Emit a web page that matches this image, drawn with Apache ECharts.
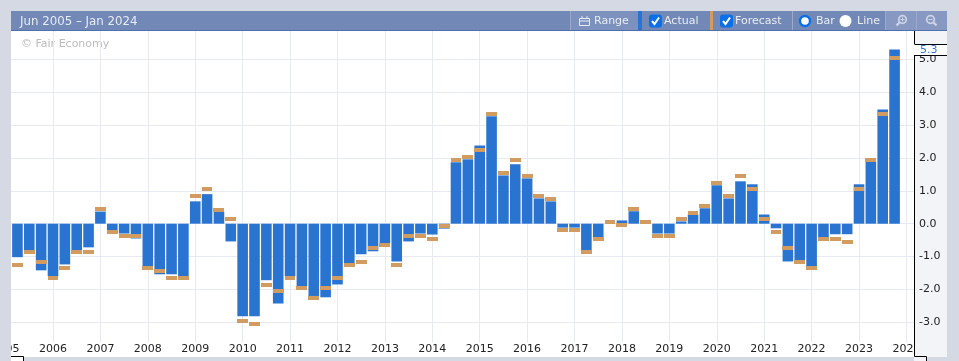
<!DOCTYPE html>
<html><head><meta charset="utf-8">
<style>html,body{margin:0;padding:0;background:#d5d9e3;overflow:hidden}#c{width:959px;height:361px}</style>
<script src="https://cdn.jsdelivr.net/npm/echarts@6/dist/echarts.min.js"></script>
</head><body><div id="c"></div>
<script>
const quarters = [];
for (let y = 2005; y <= 2024; y++) for (let q = 1; q <= 4; q++) { if (y < 2024 || q <= 2) quarters.push(y + ' Q' + q); }
const actual = [null,
 -1.02,-0.8,-1.42,-1.6,-1.24,-0.81,-0.72,0.37,-0.2,-0.3,-0.45,-1.3,-1.54,-1.54,-1.6,
 0.68,0.9,0.37,-0.54,-2.82,-2.82,-1.72,-2.43,-1.6,-1.9,-2.2,-2.24,-1.85,-1.21,-0.93,
 -0.84,-0.6,-1.15,-0.54,-0.3,-0.33,-0.15,1.87,1.96,2.38,3.27,1.47,1.81,1.38,0.77,0.68,
 -0.12,-0.12,-0.84,-0.42,0,0.1,0.38,0,-0.3,-0.3,0.07,0.28,0.47,1.17,0.77,1.29,1.2,0.28,
 -0.14,-1.15,-1.15,-1.3,-0.42,-0.32,-0.32,1.2,1.9,3.48,5.3,null,null];
const forecast = [null,
 -1.27,-0.87,-1.18,-1.66,-1.36,-0.87,-0.87,0.44,-0.26,-0.36,-0.36,-1.36,-1.45,-1.66,-1.66,
 0.83,1.05,0.42,0.15,-2.97,-3.06,-1.88,-2.06,-1.66,-1.97,-2.27,-1.97,-1.66,-1.27,-1.18,
 -0.75,-0.66,-1.27,-0.36,-0.36,-0.48,-0.06,1.93,2.02,2.23,3.33,1.53,1.93,1.44,0.83,0.74,
 -0.18,-0.18,-0.87,-0.48,0.04,-0.05,0.44,0.04,-0.36,-0.36,0.13,0.34,0.53,1.23,0.83,1.44,1.05,0.13,
 -0.26,-0.75,-1.18,-1.36,-0.48,-0.48,-0.57,1.05,1.95,3.35,5.03,null,null];
const yTicks = [-3,-2,-1,0,1,2,3,4,5,6];
const title = 'Jun 2005 – Jan 2024';
const credit = '© Fair Economy';
const latestLabel = '5.3';

const FONT = '"DejaVu Sans"';
const CHROME = '#d5d9e3', BAR = '#2874d0', ORANGE = '#d29b5f', TB = '#7288b6', TBL = '#8799c2', TXT = '#e8ecf4';
const rect = (x,y,w,h,fill,z=4,extra={}) => ({type:'rect',shape:{x,y,width:w,height:h,...extra},style:{fill},z,silent:true});
const text = (x,y,t,fill,z=5,size=11) => ({type:'text',x,y,style:{text:t,fill,font:size+'px '+FONT,textVerticalAlign:'middle'},z,silent:true});
const line = (x1,y1,x2,y2,stroke,w=1,z=6) => ({type:'line',shape:{x1,y1,x2,y2},style:{stroke,lineWidth:w},z,silent:true});
const checkbox = (x) => [
  rect(x,14.5,13,13,'#0b6fe8',5,{r:3}),
  {type:'polyline',shape:{points:[[x+3,21],[x+5.5,24],[x+10,17.5]]},style:{stroke:'#fff',lineWidth:2,fill:null},z:6,silent:true}
];
const ICON = '#cbd3e5';
const zoomIn = (cx) => [
  {type:'circle',shape:{cx:cx+1.5,cy:19.5,r:3.8},style:{stroke:ICON,lineWidth:1.8,fill:null},z:6,silent:true},
  line(cx-1.5,22.5,cx-4.5,25.5,ICON,2.4),
  line(cx-0.5,19.5,cx+3.5,19.5,ICON,1), line(cx+1.5,17.5,cx+1.5,21.5,ICON,1)
];
const zoomOut = (cx) => [
  {type:'circle',shape:{cx:cx-1.5,cy:19.5,r:3.8},style:{stroke:ICON,lineWidth:1.8,fill:null},z:6,silent:true},
  line(cx+1.5,22.5,cx+4.5,25.5,ICON,2.4),
  line(cx-3.5,19.5,cx+0.5,19.5,ICON,1)
];
const graphic = [
  rect(11,11,936,346,'#ffffff',-1),
  text(21,44.5,credit,'#bcbcbc',-0.5),
  // strip under the plot, holding the year labels
  rect(11,342.5,903,14,'#ffffff',1),
  // value-axis panel
  rect(914,31,33,326,'#f3f4f8',2.5),
  // frame
  rect(0,0,11,361,CHROME), rect(0,0,959,11,CHROME), rect(947,0,12,361,CHROME), rect(0,357,959,4,CHROME),
  rect(11,357,12,4,'#ffffff',4.5), rect(914,357,12,4,'#f3f4f8',4.5),
  rect(914,44,33,11,'#ffffff',4),
  line(914.5,31,914.5,44,'#000'), line(914.5,55,914.5,356.5,'#000'),
  line(914.5,44.5,947,44.5,'#000'), line(914.5,55.5,947,55.5,'#000'),
  line(914.5,356.5,926.5,356.5,'#000'), line(926.5,356.5,926.5,361,'#000'),
  line(11,356.5,23.5,356.5,'#000'), line(23.5,356.5,23.5,361,'#000'),
  text(920,50,latestLabel,'#2f7ad8',6),
  // toolbar
  rect(11,11,936,20,TB,4),
  rect(11,30,936,1,'#4f6fae',4.2),
  text(20,21.5,title,TXT,5,11.8),
  rect(570,11,68,19,'#7c91bd',4.1),
  line(570.5,11,570.5,30,'#9aa9cc',1,4.3),
  {type:'rect',shape:{x:579.5,y:18.5,width:10,height:7},style:{fill:null,stroke:TXT,lineWidth:1},z:6,silent:true},
  line(579.5,21,589.5,21,TXT,1), line(582,16,582,19,TXT,1), line(587,16,587,19,TXT,1),
  text(594,21.5,'Range',TXT),
  rect(638,11,4,19,BAR,4.3),
  ...checkbox(649), text(664,21.5,'Actual',TXT),
  rect(710,11,3,19,ORANGE,4.3),
  ...checkbox(720), text(735,21.5,'Forecast',TXT),
  line(792.5,11,792.5,30,'#9aa9cc',1,4.3),
  {type:'circle',shape:{cx:805,cy:21,r:5},style:{fill:'#fff',stroke:'#0b6fe8',lineWidth:2.4},z:6,silent:true},
  text(816,21.5,'Bar',TXT),
  {type:'circle',shape:{cx:845.5,cy:21,r:6},style:{fill:'#fff'},z:6,silent:true},
  text(857,21.5,'Line',TXT),
  rect(885,11,62,19,TBL,4.1),
  line(885.5,11,885.5,30,'#9aa9cc',1,4.3), line(916.5,11,916.5,30,'#9aa9cc',1,4.3),
  ...zoomIn(901), ...zoomOut(932)
];

const isYear = (v) => /Q1$/.test(v);
const chart = echarts.init(document.getElementById('c'),null,{renderer:'canvas'});
const LEFT = 5.59, STEP = 11.853;
chart.setOption({
  animation:false,
  backgroundColor:CHROME,
  textStyle:{fontFamily:FONT},
  graphic,
  grid:[
    {left:LEFT,width:STEP*(quarters.length-1),top:26.6,height:328.5,outerBoundsMode:'none'},
    {left:914,width:33,top:26.6,height:328.5,outerBoundsMode:'none'}
  ],
  xAxis:[
    {type:'category',gridIndex:0,data:quarters,boundaryGap:false,z:0,
     axisLine:{show:false},axisTick:{show:false},axisLabel:{show:false},
     splitLine:{show:true,interval:(i,v)=>isYear(v),lineStyle:{color:'#e8eaf3',width:1}}},
    {type:'category',gridIndex:0,data:quarters,boundaryGap:false,z:2,position:'bottom',
     axisLine:{show:false},axisTick:{show:false},splitLine:{show:false},
     axisLabel:{show:true,inside:true,interval:(i,v)=>isYear(v),hideOverlap:false,
       formatter:(v)=>v.slice(0,4),color:'#222',fontSize:11,fontFamily:FONT,margin:0,verticalAlign:'bottom',lineHeight:12}},
    {type:'category',gridIndex:1,show:false,data:[]}
  ],
  yAxis:[
    {type:'value',gridIndex:0,min:-4,max:6,interval:1,z:0,axisLine:{show:false},axisTick:{show:false},axisLabel:{show:false},
     splitLine:{show:true,lineStyle:{color:'#e8eaf3',width:1}}},
    {type:'value',gridIndex:1,min:-4,max:6,interval:1,position:'left',z:3,
     axisLine:{show:false},axisTick:{show:false},splitLine:{show:false},
     axisLabel:{inside:true,margin:5,color:'#222',fontSize:11,fontFamily:FONT,showMinLabel:true,
       formatter:(v)=>yTicks.includes(v)?v.toFixed(1):''}}
  ],
  series:[
    {name:'Actual',type:'bar',xAxisIndex:0,yAxisIndex:0,data:actual,barWidth:10.6,itemStyle:{color:BAR},z:2},
    {name:'Forecast',type:'custom',xAxisIndex:0,yAxisIndex:0,data:forecast.map((v,i)=>[i,v]),
     encode:{x:0,y:1},z:3,clip:false,
     renderItem:(params,api)=>{
       const v = api.value(1);
       if (v === null || v === undefined || isNaN(v)) return null;
       const p = api.coord([api.value(0),v]);
       const x0 = Math.round(p[0]-5.5), x1 = Math.round(p[0]+5.4), y0 = Math.round(p[1]-2);
       return {type:'rect',shape:{x:x0,y:y0,width:x1-x0,height:4},style:{fill:ORANGE}};
     }}
  ]
});
</script></body></html>
